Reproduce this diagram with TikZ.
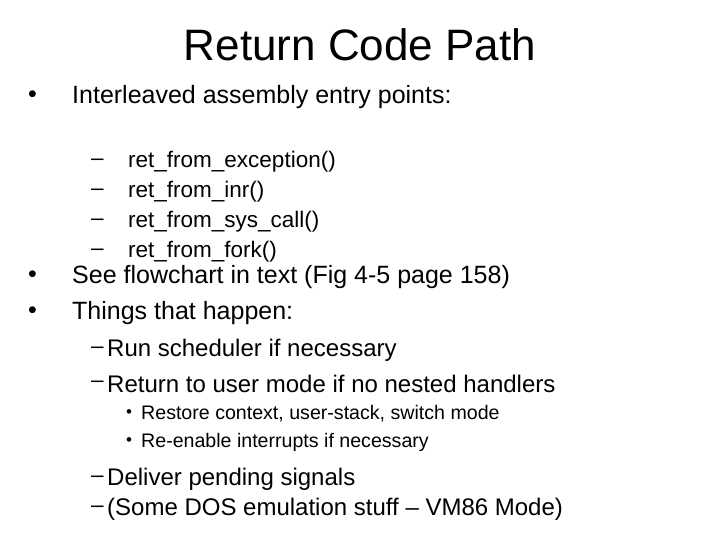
\documentclass[tikz,border=0pt]{standalone}
\usepackage{fontspec}
\setmainfont{Liberation Sans}
\usetikzlibrary{positioning}
\tikzset{
  lvlone/.style={anchor=west, inner sep=0pt, font=\fontsize{25}{29}\selectfont},
  lvltwo/.style={anchor=west, inner sep=0pt, font=\fontsize{22.5}{26}\selectfont},
  lvlthree/.style={anchor=west, inner sep=0pt, font=\fontsize{19.6}{22}\selectfont},
  dot/.style={anchor=west, inner sep=0pt, font=\fontsize{25}{29}\selectfont}
}
\begin{document}
\begin{tikzpicture}[x=1pt, y=-1pt]
  \useasboundingbox (0,0) rectangle (720,540);
  \node[inner sep=0pt, font=\fontsize{44}{50}\selectfont] (title) at (360,45) {Return Code Path};

  \node[dot] (b1) at (28,97) {\textbullet};
  \node[lvlone] (t1) at (72,97) {Interleaved assembly entry points:};
  \foreach \y/\txt [count=\i] in {162/ret\_from\_exception(), 192/ret\_from\_inr(), 222/ret\_from\_sys\_call(), 252/ret\_from\_fork()} {
    \node[lvltwo] (d\i) at (91,\y) {--};
    \node[lvltwo] (e\i) at (128,\y) {\txt};
  }

  \node[dot] (b2) at (28,277) {\textbullet};
  \node[lvlone] (t2) at (72,277) {See flowchart in text (Fig 4-5 page 158)};
  \node[dot] (b3) at (28,313) {\textbullet};
  \node[lvlone] (t3) at (72,313) {Things that happen:};

  \foreach \y/\txt [count=\i] in {350/Run scheduler if necessary, 384/Return to user mode if no nested handlers, 479/Deliver pending signals, 509/(Some DOS emulation stuff -- VM86 Mode)} {
    \node[lvltwo] (h\i) at (91,\y) {--};
    \node[lvltwo, font=\fontsize{24}{28}\selectfont] (s\i) at (107,\y) {\txt};
  }
  \foreach \y/\txt [count=\i] in {414/{Restore context, user-stack, switch mode}, 442/Re-enable interrupts if necessary} {
    \node[lvlthree, font=\fontsize{17}{19}\selectfont] (p\i) at (126,\y) {\textbullet};
    \node[lvlthree] (q\i) at (141,\y) {\txt};
  }
\end{tikzpicture}
\end{document}
